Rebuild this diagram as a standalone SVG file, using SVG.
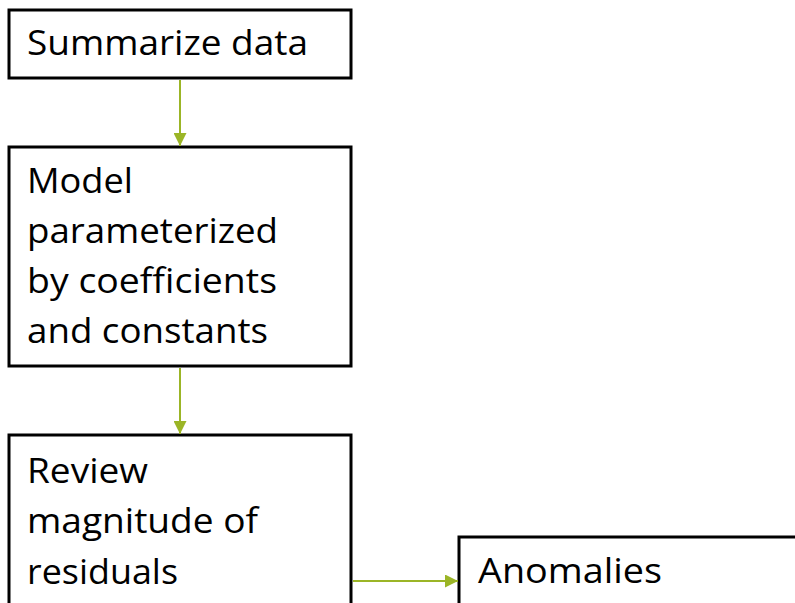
<svg xmlns="http://www.w3.org/2000/svg" width="795" height="603" viewBox="0 0 795 603">
<style>
.box{fill:#fff;stroke:#000;stroke-width:3}
.t{font-family:"Open Sans","Liberation Sans",sans-serif;font-size:34px;fill:#000}
.c{stroke:#9bb526;stroke-width:2;fill:none}
</style>
<defs>
<marker id="ah" markerWidth="14" markerHeight="13" refX="13" refY="6.5" orient="auto" markerUnits="userSpaceOnUse">
<path d="M0,0 L13,6.5 L0,13 Z" fill="#9bb526"/>
</marker>
</defs>
<rect width="795" height="603" fill="#fff"/>
<g id="n1">
<rect class="box" x="9" y="10" width="342" height="68"/>
<text class="t" x="27" y="55" textLength="281" lengthAdjust="spacingAndGlyphs">Summarize data</text>
</g>
<g id="n2">
<rect class="box" x="9" y="147" width="342" height="219"/>
<text class="t" x="27" y="193" textLength="106" lengthAdjust="spacingAndGlyphs">Model</text>
<text class="t" x="27" y="243" textLength="251" lengthAdjust="spacingAndGlyphs">parameterized</text>
<text class="t" x="27" y="293" textLength="250" lengthAdjust="spacingAndGlyphs">by coefficients</text>
<text class="t" x="27" y="343" textLength="241" lengthAdjust="spacingAndGlyphs">and constants</text>
</g>
<g id="n3">
<rect class="box" x="9" y="435" width="342" height="200"/>
<text class="t" x="27" y="483" textLength="121" lengthAdjust="spacingAndGlyphs">Review</text>
<text class="t" x="27" y="533" textLength="231" lengthAdjust="spacingAndGlyphs">magnitude of</text>
<text class="t" x="27" y="584" textLength="151" lengthAdjust="spacingAndGlyphs">residuals</text>
</g>
<g id="n4">
<rect class="box" x="459" y="537" width="400" height="100"/>
<text class="t" x="478" y="583" textLength="184" lengthAdjust="spacingAndGlyphs">Anomalies</text>
</g>
<g id="connectors">
<line class="c" x1="180" y1="80" x2="180" y2="146" marker-end="url(#ah)"/>
<line class="c" x1="180" y1="368" x2="180" y2="434" marker-end="url(#ah)"/>
<line class="c" x1="353" y1="581" x2="458" y2="581" marker-end="url(#ah)"/>
</g>
</svg>
